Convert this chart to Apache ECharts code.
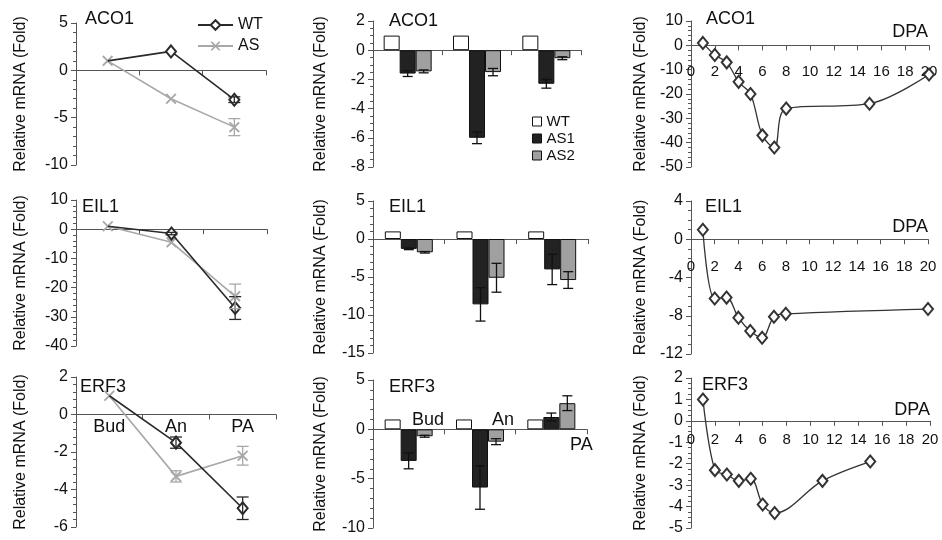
<!DOCTYPE html>
<html><head><meta charset="utf-8">
<script src="https://cdn.jsdelivr.net/npm/echarts@6/dist/echarts.min.js"></script>
<style>html,body{margin:0;padding:0;background:#fff}#c{width:942px;height:540px}</style>
</head><body><div id="c"></div>
<script>
// ---------- data ----------
const stages = ['Bud', 'An', 'PA'];
// left column (WT vs AS lines)
const aco1WT = [1, 2, -3.1], aco1WTErr = [0, 0, 0.3];
const aco1AS = [1, -3, -6], aco1ASErr = [0, 0, 0.9];
const eil1WT = [1, -1.5, -27], eil1WTErr = [0, 0.4, 3.9];
const eil1AS = [1, -4.5, -23], eil1ASErr = [0, 0, 4.2];
const erf3WT = [1, -1.5, -5.0], erf3WTErr = [0, 0.3, 0.6];
const erf3AS = [1, -3.3, -2.2], erf3ASErr = [0, 0.3, 0.5];
// middle column (bars)
const aco1BarWT = [1, 1, 1];
const aco1AS1 = [-1.6, -6.0, -2.3], aco1AS1Err = [0.2, 0.4, 0.3];
const aco1AS2 = [-1.45, -1.5, -0.55], aco1AS2Err = [0.1, 0.25, 0.1];
const eil1BarWT = [1, 1, 1];
const eil1AS1 = [-1.3, -8.6, -4.0], eil1AS1Err = [0.1, 2.2, 2.0];
const eil1AS2 = [-1.75, -5.1, -5.4], eil1AS2Err = [0.1, 1.9, 1.1];
const erf3BarWT = [1, 1, 1];
const erf3AS1 = [-3.2, -5.9, 1.25], erf3AS1Err = [0.8, 2.2, 0.4];
const erf3AS2 = [-0.7, -1.25, 2.65], erf3AS2Err = [0.1, 0.3, 0.75];
// right column (DPA time course)
const aco1Days = [1, 2, 3, 4, 5, 6, 7, 8, 15, 20];
const aco1DPA = [1, -4, -7, -15, -20, -37, -42, -26, -24, -12];
const eil1Days = [1, 2, 3, 4, 5, 6, 7, 8, 20];
const eil1DPA = [1, -6.2, -6.1, -8.2, -9.6, -10.3, -8.1, -7.8, -7.3];
const erf3Days = [1, 2, 3, 4, 5, 6, 7, 11, 15];
const erf3DPA = [1, -2.3, -2.5, -2.8, -2.7, -3.9, -4.3, -2.8, -1.9];
// axis ranges [min, max, interval]
const yLeft = [[-10, 5, 5], [-40, 10, 10], [-6, 2, 2]];
const yMid = [[-8, 2, 2], [-15, 5, 5], [-10, 5, 5]];
const yRight = [[-50, 10, 10], [-12, 4, 4], [-5, 2, 1]];
const genes = ['ACO1', 'EIL1', 'ERF3'];
const yName = 'Relative mRNA (Fold)';

// ---------- style ----------
const FONT = 'Liberation Sans, Arial, sans-serif';
const AX = '#555', TXT = '#111', DARK = '#2a2a2a', LIGHT = '#a8a8a8', MIDGRAY = '#a0a0a0';
const BARW = 16;
const xMark = 'path://M0,1.2L1.2,0L5,3.8L8.8,0L10,1.2L6.2,5L10,8.8L8.8,10L5,6.2L1.2,10L0,8.8L3.8,5Z';

const grids = [
  {left: 76, top: 23, width: 190, height: 142},
  {left: 76, top: 200, width: 191, height: 146},
  {left: 76, top: 377, width: 200, height: 150},
  {left: 373, top: 21, width: 208, height: 146},
  {left: 373, top: 201, width: 215, height: 152},
  {left: 373, top: 380, width: 214, height: 148},
  {left: 691, top: 21, width: 238, height: 146},
  {left: 691, top: 201, width: 237, height: 153},
  {left: 691, top: 378, width: 239, height: 150}
];
const allRanges = yLeft.concat(yMid, yRight);
// distance (px) from grid bottom up to the zero line, so x axis sits at y = 0
function zeroOffset(gi) {
  const r = allRanges[gi];
  return -grids[gi].height * (0 - r[0]) / (r[1] - r[0]);
}

function yAxisOf(gi, gap, minorSplit) {
  const r = allRanges[gi];
  return {
    type: 'value', gridIndex: gi, min: r[0], max: r[1], interval: r[2],
    name: yName, nameLocation: 'middle', nameGap: gap, nameRotate: 90,
    nameTextStyle: {fontSize: 16, color: TXT, fontFamily: FONT},
    axisLine: {show: true, lineStyle: {color: AX, width: 1}},
    axisTick: {show: true, length: 5, lineStyle: {color: AX}},
    minorTick: {show: true, splitNumber: minorSplit, length: 3, lineStyle: {color: AX}},
    axisLabel: {fontSize: 16, color: TXT, fontFamily: FONT, margin: 8},
    splitLine: {show: false}, minorSplitLine: {show: false}
  };
}
function catAxisOf(gi, showLabel) {
  return {
    type: 'category', gridIndex: gi, data: stages, boundaryGap: true,
    position: 'bottom', offset: zeroOffset(gi),
    axisLine: {onZero: false, lineStyle: {color: AX, width: 1}},
    axisTick: {show: true, length: 5, alignWithLabel: false, lineStyle: {color: AX}},
    axisLabel: {show: showLabel, fontSize: 18, color: TXT, fontFamily: FONT, margin: 4}
  };
}
function dpaAxisOf(gi, margin) {
  return {
    type: 'value', gridIndex: gi, min: 0, max: 20, interval: 2,
    position: 'bottom', offset: zeroOffset(gi),
    axisLine: {onZero: false, lineStyle: {color: AX, width: 1}},
    axisTick: {show: true, length: 5, lineStyle: {color: AX}},
    axisLabel: {fontSize: 15, color: TXT, fontFamily: FONT, margin: margin},
    splitLine: {show: false}
  };
}

const xAxes = [
  catAxisOf(0, false), catAxisOf(1, false), catAxisOf(2, true),
  catAxisOf(3, false), catAxisOf(4, false), catAxisOf(5, false),
  dpaAxisOf(6, 19), dpaAxisOf(7, 20), dpaAxisOf(8, 12)
];
const yAxes = [
  yAxisOf(0, 47, 5), yAxisOf(1, 47, 5), yAxisOf(2, 47, 5),
  yAxisOf(3, 44, 4), yAxisOf(4, 44, 5), yAxisOf(5, 44, 5),
  yAxisOf(6, 42, 5), yAxisOf(7, 42, 4), yAxisOf(8, 42, 4)
];

function errRenderer(color, capHalf, offset) {
  return function (params, api) {
    const i = api.value(0), v = api.value(1), e = api.value(2);
    if (!e) return null;
    const t = api.coord([i, v + e]), b = api.coord([i, v - e]);
    const x = t[0] + offset;
    const st = {stroke: color, lineWidth: 1.3};
    return {type: 'group', children: [
      {type: 'line', shape: {x1: x, y1: t[1], x2: x, y2: b[1]}, style: st},
      {type: 'line', shape: {x1: x - capHalf, y1: t[1], x2: x + capHalf, y2: t[1]}, style: st},
      {type: 'line', shape: {x1: x - capHalf, y1: b[1], x2: x + capHalf, y2: b[1]}, style: st}
    ]};
  };
}
function errSeries(gi, vals, errs, color, capHalf, offset) {
  return {
    type: 'custom', name: 'err' + gi + color + offset, xAxisIndex: gi, yAxisIndex: gi, z: 5,
    renderItem: errRenderer(color, capHalf, offset),
    data: vals.map((v, i) => [i, v, errs[i]]), silent: true
  };
}

const series = [];
// left column lines (first so legend "WT" takes line icon)
const leftSets = [[aco1WT, aco1WTErr, aco1AS, aco1ASErr], [eil1WT, eil1WTErr, eil1AS, eil1ASErr], [erf3WT, erf3WTErr, erf3AS, erf3ASErr]];
leftSets.forEach((s, gi) => {
  series.push({
    type: 'line', name: 'WT', xAxisIndex: gi, yAxisIndex: gi, z: 3,
    data: s[0].map((v, i) => i === 0 ? {value: v, symbol: 'none'} : v),
    symbol: 'emptyDiamond', symbolSize: [10, 12], showAllSymbol: true,
    lineStyle: {color: DARK, width: 1.6}, itemStyle: {color: DARK, borderWidth: 1.5}
  });
  series.push({
    type: 'line', name: 'AS', xAxisIndex: gi, yAxisIndex: gi, z: 2,
    data: s[2], symbol: xMark, symbolSize: 11,
    lineStyle: {color: LIGHT, width: 1.6}, itemStyle: {color: LIGHT}
  });
  series.push(errSeries(gi, s[0], s[1], DARK, 6, 0));
  series.push(errSeries(gi, s[2], s[3], LIGHT, 6, 0));
});
// middle column bars
const midSets = [[aco1BarWT, aco1AS1, aco1AS1Err, aco1AS2, aco1AS2Err], [eil1BarWT, eil1AS1, eil1AS1Err, eil1AS2, eil1AS2Err], [erf3BarWT, erf3AS1, erf3AS1Err, erf3AS2, erf3AS2Err]];
midSets.forEach((s, k) => {
  const gi = 3 + k;
  const bs = {borderColor: '#111', borderWidth: 1};
  series.push({type: 'bar', name: 'WT', xAxisIndex: gi, yAxisIndex: gi, barWidth: BARW, barGap: '0%', data: s[0], itemStyle: Object.assign({color: '#fff'}, bs)});
  series.push({type: 'bar', name: 'AS1', xAxisIndex: gi, yAxisIndex: gi, barWidth: BARW, barGap: '0%', data: s[1], itemStyle: Object.assign({color: '#222'}, bs)});
  series.push({type: 'bar', name: 'AS2', xAxisIndex: gi, yAxisIndex: gi, barWidth: BARW, barGap: '0%', data: s[3], itemStyle: Object.assign({color: MIDGRAY}, bs)});
  series.push(errSeries(gi, s[1], s[2], '#111', 5, 0));
  series.push(errSeries(gi, s[3], s[4], '#111', 5, BARW));
});
// right column DPA curves
const rightSets = [[aco1Days, aco1DPA], [eil1Days, eil1DPA], [erf3Days, erf3DPA]];
rightSets.forEach((s, k) => {
  const gi = 6 + k;
  series.push({
    type: 'line', name: 'DPA' + k, xAxisIndex: gi, yAxisIndex: gi, smooth: 0.35,
    data: s[0].map((d, i) => [d, s[1][i]]),
    symbol: 'emptyDiamond', symbolSize: [10, 12],
    lineStyle: {color: '#333', width: 1.3}, itemStyle: {color: '#333', borderWidth: 1.2}
  });
});

function txt(text, pos, size) {
  return Object.assign({text: text, padding: 0, textStyle: {fontSize: size || 18, fontWeight: 'normal', color: TXT, fontFamily: FONT}}, pos);
}
const titles = [
  txt(genes[0], {left: 85, top: 10}), txt(genes[1], {left: 82, top: 198}), txt(genes[2], {left: 80, top: 378}),
  txt(genes[0], {left: 389, top: 12}), txt(genes[1], {left: 389, top: 198}), txt(genes[2], {left: 389, top: 378}),
  txt(genes[0], {left: 706, top: 10}), txt(genes[1], {left: 705, top: 198}), txt(genes[2], {left: 702, top: 376}),
  txt('DPA', {right: 14, top: 23}), txt('DPA', {right: 14, top: 218}), txt('DPA', {right: 12, top: 401}),
  txt(stages[0], {left: 412, top: 411}), txt(stages[1], {left: 492, top: 411}), txt(stages[2], {left: 570, top: 436})
];

const option = {
  animation: false,
  backgroundColor: '#fff',
  textStyle: {fontFamily: FONT},
  title: titles,
  grid: grids,
  xAxis: xAxes,
  yAxis: yAxes,
  legend: [
    {left: 192, top: 12, orient: 'vertical', itemWidth: 35, itemHeight: 12, itemGap: 5,
     textStyle: {fontSize: 16, color: TXT, fontFamily: FONT}, data: ['WT', 'AS'], selectedMode: false},
    {left: 527, top: 109, orient: 'vertical', itemWidth: 9, itemHeight: 9, itemGap: 2,
     textStyle: {fontSize: 15, color: TXT, fontFamily: FONT}, selectedMode: false,
     data: [
       {name: 'WT', icon: 'rect', itemStyle: {color: '#fff', borderColor: '#111', borderWidth: 1}},
       {name: 'AS1', icon: 'rect', itemStyle: {color: '#222', borderColor: '#111', borderWidth: 1}},
       {name: 'AS2', icon: 'rect', itemStyle: {color: MIDGRAY, borderColor: '#111', borderWidth: 1}}
     ]}
  ],
  series: series
};
const chart = echarts.init(document.getElementById('c'), null, {renderer: 'canvas'});
chart.setOption(option);
</script></body></html>
